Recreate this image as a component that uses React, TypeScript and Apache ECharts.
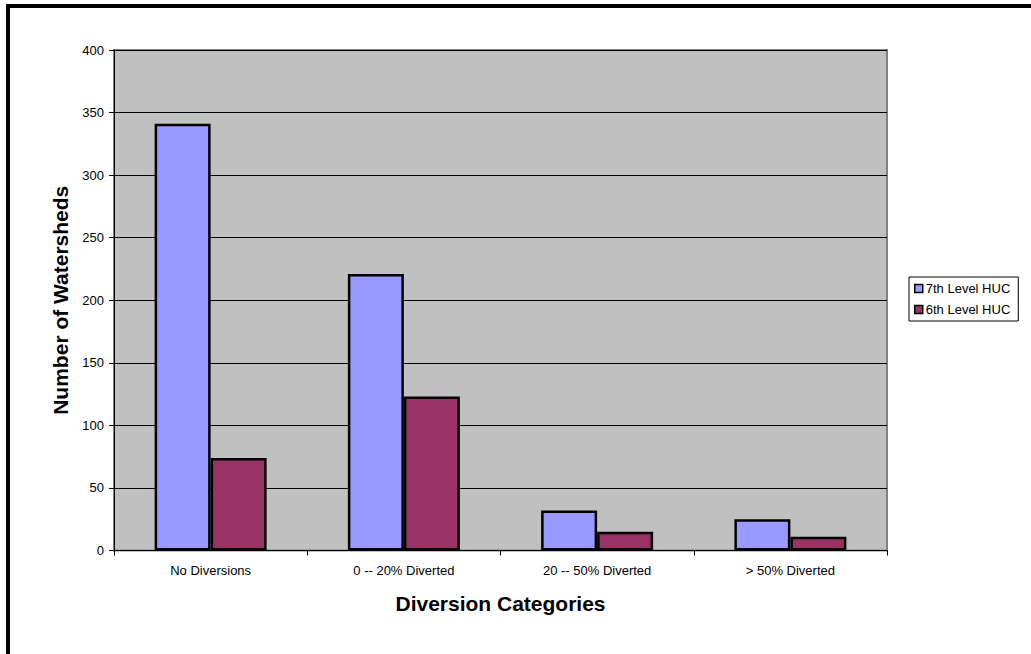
import React, { useEffect, useRef } from "react";
import * as echarts from "echarts";

const categories = ["No Diversions", "0 -- 20% Diverted", "20 -- 50% Diverted", "> 50% Diverted"];
const huc7 = [341, 221, 32, 25];
const huc6 = [74, 123, 15, 11];
const seriesNames = ["7th Level HUC", "6th Level HUC"];

export default function App() {
  const ref = useRef<HTMLDivElement>(null);
  useEffect(() => {
    document.body.style.margin = "0";
    const chart = echarts.init(ref.current!, null, { renderer: "svg" });
    const font = "Liberation Sans, Arial, sans-serif";
    chart.setOption({
      animation: false,
      backgroundColor: "#ffffff",
      textStyle: { fontFamily: font },
      graphic: [
        {
          type: "rect",
          shape: { x: 8, y: 6, width: 1100, height: 800 },
          style: { fill: "none", stroke: "#000", lineWidth: 4 },
          silent: true,
        },
      ],
      grid: {
        left: 114,
        top: 50,
        right: 144,
        bottom: 103.5,
        show: true,
        backgroundColor: "#C0C0C0",
        borderColor: "#808080",
        borderWidth: 2,
      },
      legend: {
        orient: "vertical",
        left: 909,
        top: 277,
        data: seriesNames,
        borderColor: "#000",
        borderWidth: 1,
        padding: [5, 8, 5, 5],
        itemWidth: 8,
        itemHeight: 8,
        itemGap: 8,
        icon: "rect",
        itemStyle: { borderColor: "#000", borderWidth: 1.5 },
        textStyle: { fontSize: 13, color: "#000", fontFamily: font, padding: [0, 0, 0, -2] },
      },
      xAxis: {
        type: "category",
        data: categories,
        name: "Diversion Categories",
        nameLocation: "middle",
        nameGap: 42,
        nameTextStyle: { fontSize: 21, fontWeight: "bold", color: "#000", fontFamily: font },
        axisLine: { lineStyle: { color: "#000", width: 1 } },
        axisTick: { show: true, length: 5, lineStyle: { color: "#000" } },
        axisLabel: { fontSize: 13, color: "#000", margin: 13, fontFamily: font },
      },
      yAxis: {
        type: "value",
        min: 0,
        max: 400,
        interval: 50,
        name: "Number of Watersheds",
        nameLocation: "middle",
        nameGap: 41,
        nameTextStyle: { fontSize: 21, fontWeight: "bold", color: "#000", fontFamily: font },
        axisLine: { show: true, lineStyle: { color: "#000", width: 1 } },
        axisTick: { show: true, length: 5, lineStyle: { color: "#000" } },
        axisLabel: { fontSize: 13, color: "#000", margin: 10, fontFamily: font },
        splitLine: { show: true, lineStyle: { color: "#000", width: 1 } },
      },
      series: [
        {
          name: seriesNames[0],
          type: "bar",
          data: huc7,
          barWidth: 56,
          barGap: "0%",
          itemStyle: { color: "#9999FF", borderColor: "#000", borderWidth: 2.5 },
        },
        {
          name: seriesNames[1],
          type: "bar",
          data: huc6,
          barWidth: 56,
          barGap: "0%",
          itemStyle: { color: "#993366", borderColor: "#000", borderWidth: 2.5 },
        },
      ],
    });
    return () => chart.dispose();
  }, []);
  return <div ref={ref} style={{ width: 1031, height: 654 }} />;
}
